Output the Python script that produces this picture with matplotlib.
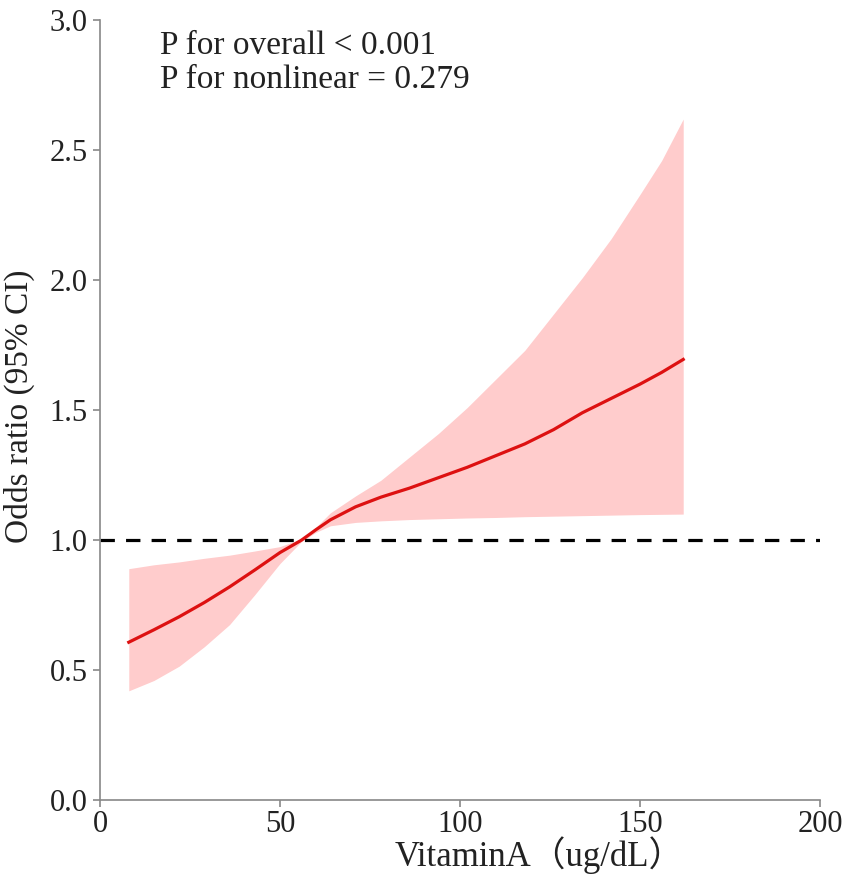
import matplotlib.pyplot as plt
import numpy as np
import matplotlib as mpl

mpl.rcParams["font.family"] = ["Liberation Serif", "Noto Sans CJK SC", "DejaVu Sans"]

# -----------------------------
# Data
# -----------------------------
vitamin_a = [8, 15, 22, 29, 36, 43, 50, 56, 60, 64, 71, 78, 86, 94,
             102, 110, 118, 126, 134, 142, 150, 156, 162]
odds_ratio = [0.607, 0.655, 0.705, 0.76, 0.82, 0.885, 0.952, 1.0, 1.04, 1.078,
              1.128, 1.165, 1.20, 1.24, 1.28, 1.325, 1.37, 1.425, 1.49,
              1.545, 1.60, 1.645, 1.695]
ci_upper = [0.89, 0.905, 0.916, 0.93, 0.942, 0.958, 0.975, 1.005, 1.05, 1.105,
            1.17, 1.23, 1.32, 1.41, 1.51, 1.62, 1.73, 1.87, 2.01, 2.16,
            2.33, 2.46, 2.62]
ci_lower = [0.42, 0.46, 0.515, 0.59, 0.675, 0.79, 0.91, 0.995, 1.03, 1.055,
            1.068, 1.074, 1.079, 1.082, 1.085, 1.087, 1.09, 1.092, 1.094,
            1.096, 1.098, 1.099, 1.10]

x_ticks = [0, 50, 100, 150, 200]
y_ticks = [0.0, 0.5, 1.0, 1.5, 2.0, 2.5, 3.0]

# -----------------------------
# Figure
# -----------------------------
fig = plt.figure(figsize=(8.51, 8.8), dpi=100, facecolor="white")
ax = fig.add_axes([0.1175, 0.0909, 0.8461, 0.8861])

ax.fill_between(vitamin_a, ci_lower, ci_upper, color="#ffcccc", linewidth=0, zorder=1)
ax.plot(vitamin_a, odds_ratio, color="#dd1111", lw=2.3, zorder=3)
ax.axhline(1.0, color="black", lw=2.3, dashes=(4.5, 3.5), zorder=2)

# p-values, baseline of the second line
ax.text(16.7, 2.74, "P for overall < 0.001\nP for nonlinear = 0.279",
        fontsize=24, ha="left", va="baseline", linespacing=1.15, color="#222222")

ax.set_xlim(0, 200)
ax.set_ylim(0, 3.0)
ax.set_xticks(x_ticks)
ax.set_yticks(y_ticks)
ax.set_yticklabels([f"{v:.1f}" for v in y_ticks])

ax.set_xlabel("VitaminA（ug/dL）", fontsize=25, color="#222222")
ax.set_ylabel("Odds ratio (95% CI)", fontsize=24, color="#222222")
ax.xaxis.set_label_coords(0.61, -0.046)
ax.yaxis.set_label_coords(-0.09, 0.505)

for side in ["top", "right"]:
    ax.spines[side].set_visible(False)
for side in ["left", "bottom"]:
    ax.spines[side].set_color("#888888")
    ax.spines[side].set_linewidth(1.2)

ax.tick_params(axis="both", labelsize=22, colors="#888888", labelcolor="#222222",
               length=5, width=1.2, pad=4)
ax.tick_params(axis="x", pad=2)

fig.savefig("out.png", dpi=100, facecolor="white")
